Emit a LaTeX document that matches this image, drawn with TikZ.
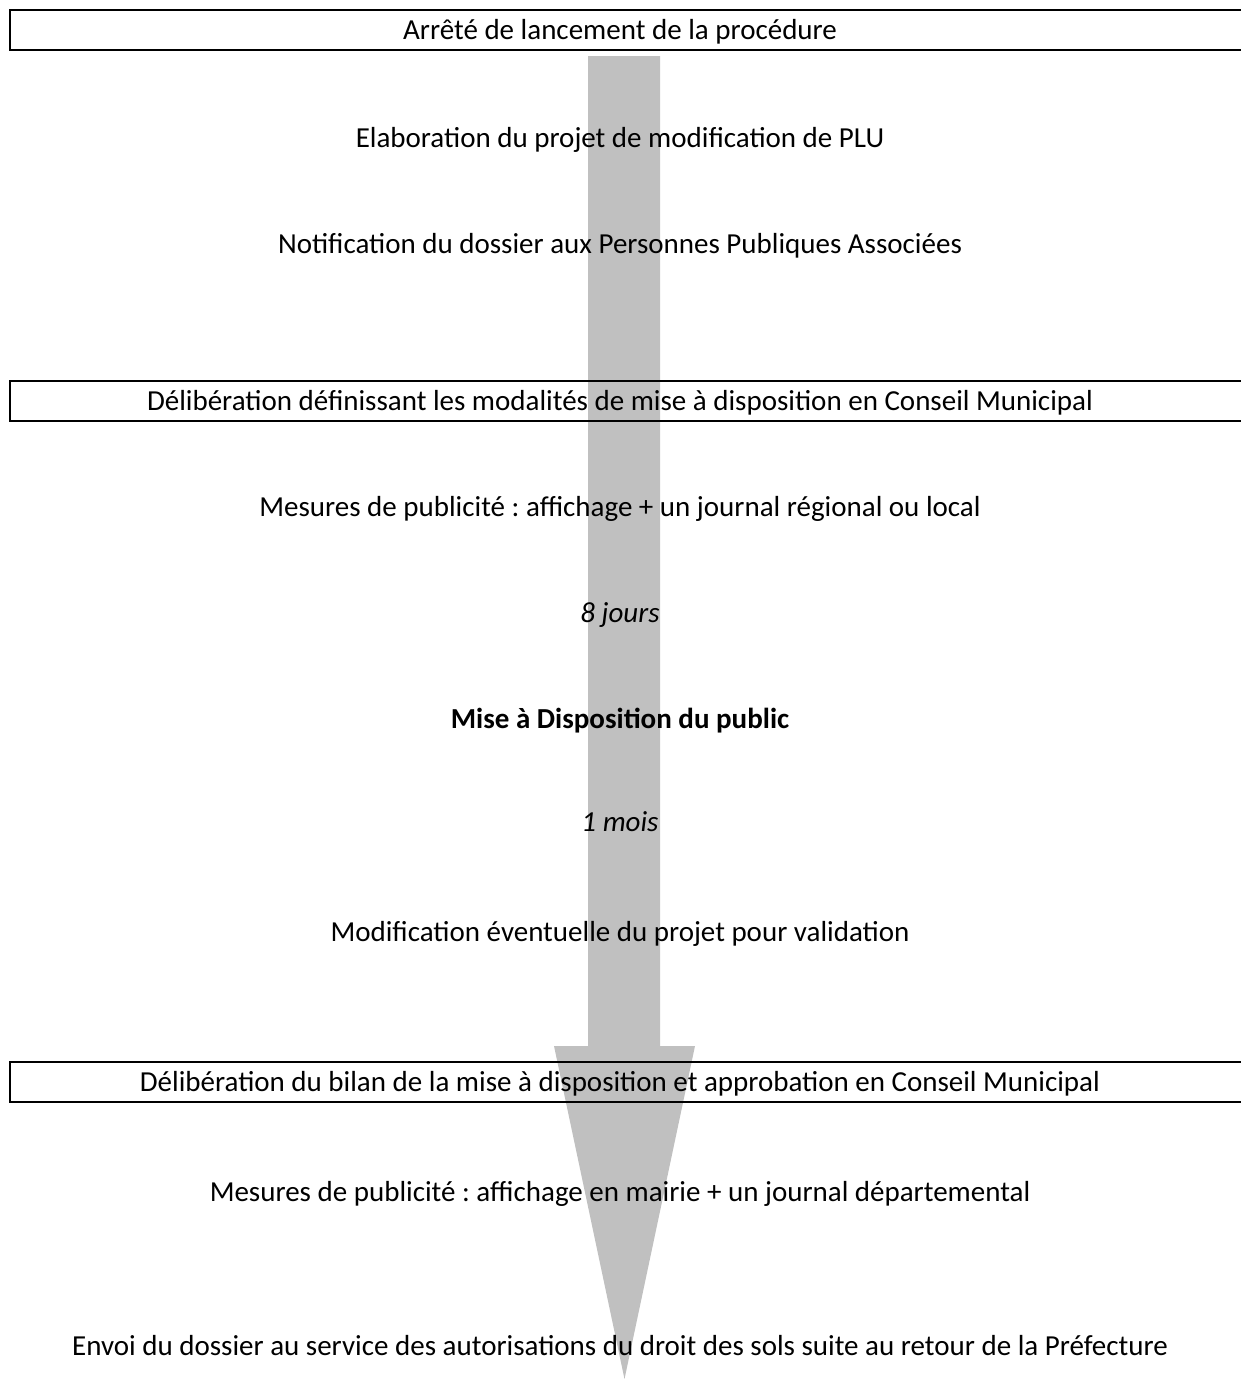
\documentclass[tikz,border=0pt]{standalone}
\usepackage{fontspec}
\setmainfont{Carlito}
\usepackage{tikz}
\definecolor{flowgray}{HTML}{C0C0C0}
\newcommand{\plutext}{\fontsize{29}{35}\selectfont}
\frenchspacing
\tikzset{
  etape/.style={draw=black, line width=1.9pt, minimum width=1250pt, minimum height=40.5pt, inner sep=0pt},
  texte/.style={font=\plutext, inner sep=0pt, text height=22pt, text depth=4pt}
}

\begin{document}
\begin{tikzpicture}[x=1pt, y=-1pt]
        \useasboundingbox (0,0) rectangle (1240,1379);
        % fleche de fond
        \fill[flowgray] (588,56) -- (660,56) -- (660,1046) -- (695,1046) -- (624.5,1379)
            -- (554,1046) -- (588,1046) -- cycle;

        % cadres
        \node[etape] (cadreA) at (634.8,30) {};
        \node[etape] (cadreB) at (634.8,401) {};
        \node[etape] (cadreC) at (634.8,1082) {};

        % etapes
        \node[texte] (arrete) at (620,30) {Arrêté de lancement de la procédure};
        \node[texte] (elaboration) at (620,138) {Elaboration du projet de modification de PLU};
        \node[texte] (notification) at (620,244) {Notification du dossier aux Personnes Publiques Associées};
        \node[texte] (deliberation) at (620,401) {Délibération définissant les modalités de mise à disposition en Conseil Municipal};
        \node[texte] (publicite) at (620,507) {Mesures de publicité : affichage + un journal régional ou local};
        \node[texte] (huitjours) at (620,613) {\textit{8 jours}};
        \node[texte] (miseadispo) at (620,719) {\textbf{Mise à Disposition du public}};
        \node[texte] (unmois) at (620,822) {\textit{1 mois}};
        \node[texte] (modification) at (620,932) {Modification éventuelle du projet pour validation};
        \node[texte] (bilan) at (620,1082) {Délibération du bilan de la mise à disposition et approbation en Conseil Municipal};
        \node[texte] (publiciteB) at (620,1192) {Mesures de publicité : affichage en mairie + un journal départemental};
        \node[texte] (envoi) at (620,1346) {Envoi du dossier au service des autorisations du droit des sols suite au retour de la Préfecture};
    \end{tikzpicture}
\end{document}
